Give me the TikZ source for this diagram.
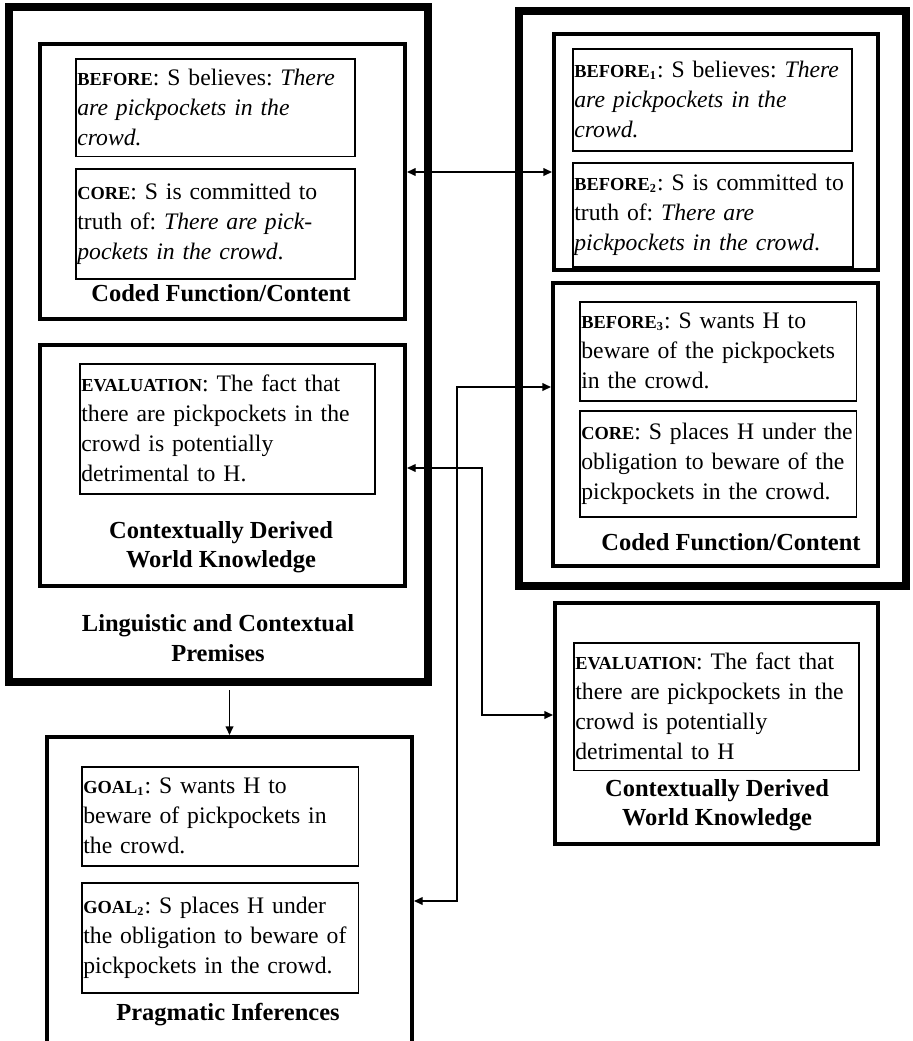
\documentclass[tikz,border=0pt,12pt]{standalone}
\usepackage{fontspec}
\setmainfont{Liberation Serif}
\usetikzlibrary{arrows.meta,positioning,fit}
\frenchspacing
\newcommand{\lbl}[1]{{\bfseries\fontsize{9pt}{11pt}\selectfont #1}}
\tikzset{
  outerblk/.style={draw,line width=4pt,inner sep=0pt},
  grpblk/.style={draw,line width=2pt,inner sep=0pt},
  txtblk/.style={draw,line width=0.75pt,anchor=north west,align=left,inner xsep=0.8pt,inner ysep=2pt,
    font=\fontsize{11.6pt}{14.7pt}\selectfont},
  ttl/.style={font=\bfseries,align=center,inner sep=1pt},
  arr/.style={-{Triangle[length=4.2pt,width=3.8pt]},line width=0.6pt},
  dblarr/.style={{Triangle[length=4.2pt,width=3.8pt]}-{Triangle[length=4.2pt,width=3.8pt]},line width=0.6pt}
}

\begin{document}
\begin{tikzpicture}[x=0.49pt,y=-0.49pt]
  \useasboundingbox (0,0) rectangle (912,1041);
  \clip (0,0) rectangle (912,1041);

  % left column: premises
  \node[outerblk,fit={(9,7) (428,682)}] (lprem) {};
  \node[grpblk,fit={(40,44) (405,319)}] (lcoded) {};
  \node[txtblk,text width=135.1pt,minimum height=48pt] (lbefore) at (75,58)
    {\lbl{BEFORE}: S believes: \textit{There}\\ \textit{are pickpockets in the}\\ \textit{crowd.}};
  \node[txtblk,text width=135.1pt,minimum height=53.9pt] (lcore) at (75,168)
    {\lbl{CORE}: S is committed to\\ truth of: \textit{There are pick-}\\ \textit{pockets in the crowd}.};
  \node[ttl] (lcodedttl) at (221,293) {Coded Function/Content};

  \node[grpblk,fit={(40,345) (405,586)}] (lworld) {};
  \node[txtblk,text width=143pt,minimum height=63.7pt] (leval) at (79,363)
    {\lbl{EVALUATION}: The fact that\\ there are pickpockets in the\\ crowd is potentially\\ detrimental to H.};
  \node[ttl] (lworldttl) at (221,547) {Contextually Derived\\World Knowledge};
  \node[ttl] (lpremttl) at (218,638) {Linguistic and Contextual\\Premises};

  % right column
  \node[outerblk,fit={(519,11) (906,586)}] (rprem) {};
  \node[grpblk,fit={(554,34) (878,270)}] (rcoded1) {};
  \node[txtblk,text width=135.1pt,minimum height=50pt] (rbefore1) at (572,48)
    {\lbl{BEFORE\textsubscript{1}}: S believes: \textit{There}\\ \textit{are pickpockets in the}\\ \textit{crowd.}};
  \node[txtblk,text width=135.6pt,minimum height=51pt] (rbefore2) at (572,162)
    {\lbl{BEFORE\textsubscript{2}}: S is committed to\\ truth of: \textit{There are}\\ \textit{pickpockets in the crowd}.};

  \node[grpblk,fit={(553,283) (878,566)}] (rcoded2) {};
  \node[txtblk,text width=134.1pt,minimum height=48.5pt] (rbefore3) at (579,301)
    {\lbl{BEFORE\textsubscript{3}}: S wants H to\\ beware of the pickpockets\\ in the crowd.};
  \node[txtblk,text width=134.1pt,minimum height=52pt] (rcore) at (579,410)
    {\lbl{CORE}: S places H under the\\ obligation to beware of the\\ pickpockets in the crowd.};
  \node[ttl] (rcodedttl) at (731,542) {Coded Function/Content};

  \node[grpblk,fit={(555,603) (878,844)}] (rworld) {};
  \node[txtblk,text width=138.1pt,minimum height=62.7pt] (reval) at (573,642)
    {\lbl{EVALUATION}: The fact that\\ there are pickpockets in the\\ crowd is potentially\\ detrimental to H};
  \node[ttl] (rworldttl) at (717,805) {Contextually Derived\\World Knowledge};

  % pragmatic inferences
  \node[grpblk,fit={(47,737) (412,1090)}] (prag) {};
  \node[txtblk,text width=134.1pt,minimum height=48.5pt] (goal1) at (81,766)
    {\lbl{GOAL\textsubscript{1}}: S wants H to\\ beware of pickpockets in\\ the crowd.};
  \node[txtblk,text width=134.1pt,minimum height=53.9pt] (goal2) at (81,882)
    {\lbl{GOAL\textsubscript{2}}: S places H under\\ the obligation to beware of\\ pickpockets in the crowd.};
  \node[ttl] (pragttl) at (228,1015) {Pragmatic Inferences};

  % links
  \coordinate (toprow) at (480,172);
  \coordinate (upper) at (457,387);
  \coordinate (lower) at (457,901);
  \coordinate (evtop) at (482,468);
  \coordinate (evbot) at (482,715);

  \draw[dblarr] (lcoded.east |- toprow) -- (rcoded1.west |- toprow);
  \draw[dblarr] (prag.east |- lower) -- (lower) -- (upper) -- (rcoded2.west |- upper);
  \draw[dblarr] (lworld.east |- evtop) -- (evtop) -- (evbot) -- (rworld.west |- evbot);
  \draw[arr] ([yshift=-2pt]lprem.south -| prag.north) -- (prag.north);
\end{tikzpicture}
\end{document}
